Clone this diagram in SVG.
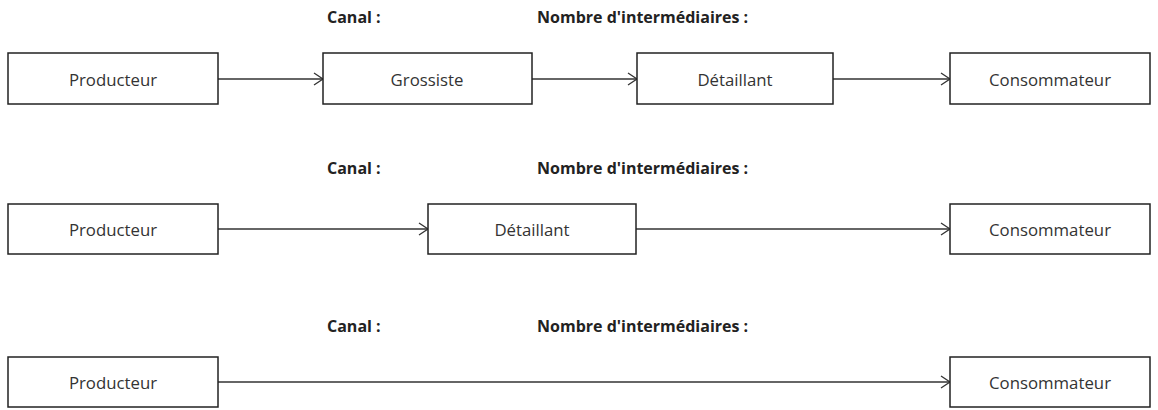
<svg xmlns="http://www.w3.org/2000/svg" width="1158" height="410" viewBox="0 0 1158 410">
<defs>
<marker id="arr" markerWidth="12" markerHeight="14" refX="10" refY="7" orient="auto" markerUnits="userSpaceOnUse">
<path d="M1,1 L10,7 L1,13" fill="none" stroke="#333" stroke-width="1.3"/>
</marker>
<style>
.box{fill:#fff;stroke:#222;stroke-width:1.5}
.lbl{font-family:"Open Sans","Liberation Sans",sans-serif;font-size:16.8px;fill:#333;text-anchor:middle;dominant-baseline:central}
.hdr{font-family:"Open Sans","Liberation Sans",sans-serif;font-size:16px;font-weight:bold;fill:#222}
.con{stroke:#333;stroke-width:1.5;fill:none;marker-end:url(#arr)}
</style>
</defs>
<rect width="1158" height="410" fill="#fff"/>
<g id="headers">
<text class="hdr" x="327" y="23">Canal :</text>
<text class="hdr" x="537" y="23">Nombre d'intermédiaires :</text>
<text class="hdr" x="327" y="174">Canal :</text>
<text class="hdr" x="537" y="174">Nombre d'intermédiaires :</text>
<text class="hdr" x="327" y="332">Canal :</text>
<text class="hdr" x="537" y="332">Nombre d'intermédiaires :</text>
</g>
<g id="connectors">
<line class="con" x1="218" y1="79" x2="323" y2="79"/>
<line class="con" x1="532" y1="79" x2="637" y2="79"/>
<line class="con" x1="833" y1="79" x2="950" y2="79"/>
<line class="con" x1="218" y1="229" x2="428" y2="229"/>
<line class="con" x1="636" y1="229" x2="950" y2="229"/>
<line class="con" x1="218" y1="382" x2="950" y2="382"/>
</g>
<g id="r1-producteur"><rect class="box" x="8" y="53" width="210" height="51"/><text class="lbl" x="113" y="79">Producteur</text></g>
<g id="r1-grossiste"><rect class="box" x="323" y="53" width="209" height="51"/><text class="lbl" x="427" y="79">Grossiste</text></g>
<g id="r1-detaillant"><rect class="box" x="637" y="53" width="196" height="51"/><text class="lbl" x="735" y="79">Détaillant</text></g>
<g id="r1-consommateur"><rect class="box" x="950" y="53" width="200" height="51"/><text class="lbl" x="1050" y="79">Consommateur</text></g>
<g id="r2-producteur"><rect class="box" x="8" y="204" width="210" height="50"/><text class="lbl" x="113" y="229">Producteur</text></g>
<g id="r2-detaillant"><rect class="box" x="428" y="204" width="208" height="50"/><text class="lbl" x="532" y="229">Détaillant</text></g>
<g id="r2-consommateur"><rect class="box" x="950" y="204" width="200" height="50"/><text class="lbl" x="1050" y="229">Consommateur</text></g>
<g id="r3-producteur"><rect class="box" x="8" y="357" width="210" height="50"/><text class="lbl" x="113" y="382">Producteur</text></g>
<g id="r3-consommateur"><rect class="box" x="950" y="357" width="200" height="50"/><text class="lbl" x="1050" y="382">Consommateur</text></g>
</svg>
